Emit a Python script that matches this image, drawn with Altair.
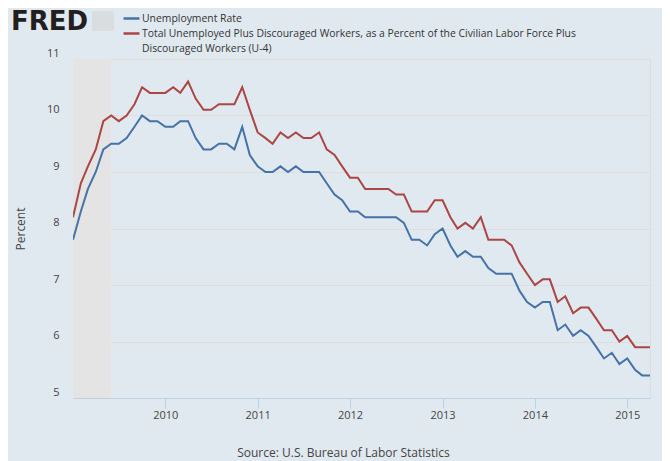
import altair as alt
import pandas as pd

# ---- data ----
start_month = "2009-01-01"
n_months = 76  # Jan 2009 .. Apr 2015

unrate = [
    7.8, 8.3, 8.7, 9.0, 9.4, 9.5, 9.5, 9.6, 9.8, 10.0, 9.9, 9.9,
    9.8, 9.8, 9.9, 9.9, 9.6, 9.4, 9.4, 9.5, 9.5, 9.4, 9.8, 9.3,
    9.1, 9.0, 9.0, 9.1, 9.0, 9.1, 9.0, 9.0, 9.0, 8.8, 8.6, 8.5,
    8.3, 8.3, 8.2, 8.2, 8.2, 8.2, 8.2, 8.1, 7.8, 7.8, 7.7, 7.9,
    8.0, 7.7, 7.5, 7.6, 7.5, 7.5, 7.3, 7.2, 7.2, 7.2, 6.9, 6.7,
    6.6, 6.7, 6.7, 6.2, 6.3, 6.1, 6.2, 6.1, 5.9, 5.7, 5.8, 5.6,
    5.7, 5.5, 5.4, 5.4,
]
u4rate = [
    8.2, 8.8, 9.1, 9.4, 9.9, 10.0, 9.9, 10.0, 10.2, 10.5, 10.4, 10.4,
    10.4, 10.5, 10.4, 10.6, 10.3, 10.1, 10.1, 10.2, 10.2, 10.2, 10.5, 10.1,
    9.7, 9.6, 9.5, 9.7, 9.6, 9.7, 9.6, 9.6, 9.7, 9.4, 9.3, 9.1,
    8.9, 8.9, 8.7, 8.7, 8.7, 8.7, 8.6, 8.6, 8.3, 8.3, 8.3, 8.5,
    8.5, 8.2, 8.0, 8.1, 8.0, 8.2, 7.8, 7.8, 7.8, 7.7, 7.4, 7.2,
    7.0, 7.1, 7.1, 6.7, 6.8, 6.5, 6.6, 6.6, 6.4, 6.2, 6.2, 6.0,
    6.1, 5.9, 5.9, 5.9,
]
series_names = [
    "Unemployment Rate",
    "Total Unemployed Plus Discouraged Workers, as a Percent of the Civilian Labor Force Plus Discouraged Workers (U-4)",
]
u4_label_lines = [
    "Total Unemployed Plus Discouraged Workers, as a Percent of the Civilian Labor Force Plus",
    "Discouraged Workers (U-4)",
]
series_colors = ["#4572A7", "#AA4643"]
recession_start = ["2009-01-01"]
recession_end = ["2009-06-01"]
year_ticks = [2010, 2011, 2012, 2013, 2014, 2015]
y_ticks = [5, 6, 7, 8, 9, 10, 11]
source_text = "Source: U.S. Bureau of Labor Statistics"
logo_text = ["FRED"]

dates = pd.date_range(start_month, periods=n_months, freq="MS")
df = pd.concat([
    pd.DataFrame({"date": dates, "value": unrate, "series": series_names[0]}),
    pd.DataFrame({"date": dates, "value": u4rate, "series": series_names[1]}),
])
rec = pd.DataFrame({"start": pd.to_datetime(recession_start),
                    "end": pd.to_datetime(recession_end)})
logo = pd.DataFrame({"t": logo_text})

FONT = "Open Sans"

xscale = alt.Scale(domain=[alt.DateTime(year=2009, month=1, date=1),
                           alt.DateTime(year=2015, month=4, date=1)])
yscale = alt.Scale(domain=[5, 11], nice=False, zero=False)

label_expr = (
    "datum.label == '" + series_names[1] + "' ? ['"
    + u4_label_lines[0] + "', '" + u4_label_lines[1] + "'] : datum.label"
)

recession = alt.Chart(rec).mark_rect(color="#E4E4E4").encode(
    x=alt.X("start:T", scale=xscale),
    x2="end:T",
)

lines = alt.Chart(df).mark_line(strokeWidth=2, clip=True).encode(
    x=alt.X(
        "date:T",
        scale=xscale,
        axis=alt.Axis(
            values=[alt.DateTime(year=y, month=1, date=1) for y in year_ticks],
            format="%Y",
            grid=False,
            domainColor="#C0D0E0",
            tickColor="#C0D0E0",
            tickSize=10,
            labelPadding=1,
            labelFont=FONT,
            labelFontSize=11,
            labelColor="#444444",
            title=source_text,
            titleFont=FONT,
            titleFontSize=12,
            titleFontWeight="normal",
            titleColor="#444444",
            titleX=270,
            titleY=54,
            titleBaseline="middle",
            titleAlign="center",
        ),
    ),
    y=alt.Y(
        "value:Q",
        scale=yscale,
        axis=alt.Axis(
            values=y_ticks,
            grid=True,
            gridColor="#DEDEDE",
            gridOpacity={"condition": {"test": "datum.value == 11", "value": 0}, "value": 1},
            domain=False,
            ticks=False,
            labelPadding=14,
            labelOffset=-6,
            labelFont=FONT,
            labelFontSize=11,
            labelColor="#444444",
            title="Percent",
            titleFont=FONT,
            titleFontSize=12,
            titleFontWeight="normal",
            titleColor="#444444",
            titleX=-53,
            titleY=169.5,
            titleAngle=-90,
            titleBaseline="middle",
            titleAlign="center",
        ),
    ),
    color=alt.Color(
        "series:N",
        scale=alt.Scale(domain=series_names, range=series_colors),
        legend=alt.Legend(
            orient="none",
            legendX=49,
            legendY=-50,
            title=None,
            symbolType="stroke",
            symbolSize=256,
            symbolStrokeWidth=2.5,
            labelFont=FONT,
            labelFontSize=10.4,
            labelColor="#333333",
            labelLimit=700,
            labelOffset=1,
            rowPadding=0,
            padding=0,
            labelExpr=label_expr,
        ),
    ),
)

# FRED wordmark and its small chart icon (page decoration above the plot)
logo_text_mark = alt.Chart(logo).mark_text(
    font="DejaVu Sans", fontSize=26, fontWeight="bold", color="#231F20",
    align="left", baseline="alphabetic",
).encode(text="t:N", x=alt.value(-62), y=alt.value(-29))

logo_icon = alt.Chart(logo).mark_rect(
    color="#D9DDE0", cornerRadius=2,
).encode(x=alt.value(19), x2=alt.value(41), y=alt.value(-48), y2=alt.value(-28))

chart = alt.layer(recession, lines, logo_text_mark, logo_icon).properties(
    width=577,
    height=339,
    autosize=alt.AutoSizeParams(type="none"),
    padding={"left": 65, "top": 51, "right": 12, "bottom": 63},
    background="#E1E9F0",
).configure_view(fill="white", strokeWidth=0).configure(
    style={"guide-label": {"lineHeight": 15}}
)

chart.save("out.html", embed_options={"renderer": "svg", "actions": False})
